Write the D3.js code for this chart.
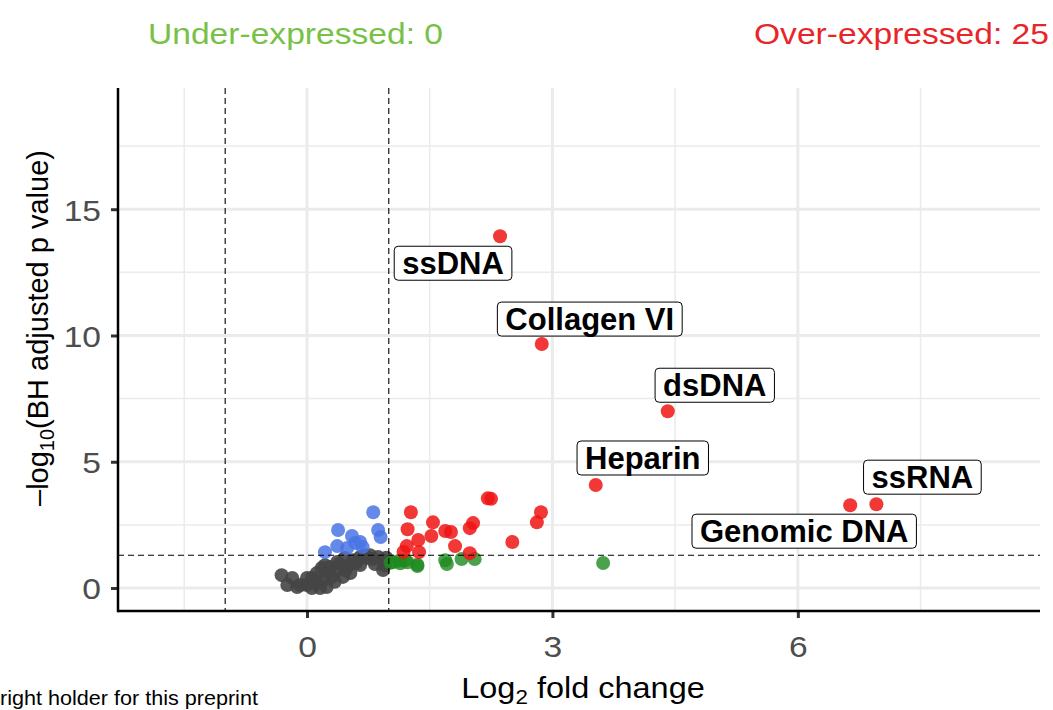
<!DOCTYPE html>
<html>
<head>
<meta charset="utf-8">
<script src="https://cdn.jsdelivr.net/npm/d3@7"></script>
<style>
body { margin: 0; background: #fff; }
svg { font-family: "Liberation Sans", Arial, sans-serif; display: block; }
.tick text { fill: #4d4d4d; font-size: 30px; }
</style>
</head>
<body>
<div id="drawing"></div>
<script>
"use strict"

/**** DATA ****/
// [log2 fold change, -log10 adjusted p]
let overExpressed = [
[2.36,13.93],[2.87,9.66],[4.41,7.0],[3.53,4.08],[6.64,3.28],[6.96,3.32],
[1.27,3.0],[1.23,2.33],[1.22,1.66],[1.18,1.43],[1.36,1.9],[1.37,1.42],
[1.54,2.6],[1.52,2.06],[1.69,2.26],[1.76,2.22],[1.81,1.66],[1.99,2.37],
[2.03,2.57],[1.99,1.38],[2.21,3.55],[2.25,3.53],[2.51,1.82],[2.81,2.6],[2.86,3.0]
]
let sigLowFC = [
[0.81,3.0],[0.38,2.3],[0.87,2.3],[0.90,2.02],[0.55,2.06],[0.59,1.78],
[0.37,1.66],[0.68,1.62],[0.22,1.42],[0.49,1.58],[0.65,1.82]
]
let highFCNotSig = [
[1.05,1.03],[1.13,1.08],[1.2,1.1],[1.35,0.87],[1.69,1.1],[1.71,0.95],
[1.89,1.15],[2.05,1.15],[1.02,1.0],[1.14,0.98],[1.23,1.02],[1.35,0.92],[3.62,0.99]
]
let notSig = [
[-0.31,0.51],[-0.18,0.4],[-0.24,0.12],[-0.12,0.04],[0.0,0.12],[0.13,0.2],
[0.24,0.04],[0.12,0.59],[0.18,0.79],[0.28,0.83],[0.37,1.03],[0.46,1.19],
[0.53,0.59],[0.44,0.44],[0.65,1.23],[0.77,1.3],[0.87,1.23],[0.93,0.71],
[0.93,1.1],[0.31,0.44],[0.2,0.32],[0.06,0.4],[0.0,0.4],[0.56,1.1],
[0.73,1.19],[0.37,0.71],[0.49,0.83],[0.65,0.91],[-0.08,0.12],[0.06,0.0],
[0.16,0.0],[0.1,0.25],[0.25,0.6],[0.4,0.95],[0.6,1.0],[0.8,1.15],
[0.95,0.9],[0.97,1.2],[0.83,0.95],[0.34,0.25],[0.47,0.7],[0.22,0.9],[0.7,1.3]
]
let labelNames = ["ssDNA","Collagen VI","dsDNA","Heparin","Genomic DNA","ssRNA"]
let labelPoints = [[2.36,13.93],[2.87,9.66],[4.41,7.0],[3.53,4.08],[6.64,3.28],[6.96,3.32]]
let xTicks = [0,3,6]
let yTicks = [0,5,10,15]
let xMinor = [-1.5,1.5,4.5,7.5]
let yMinor = [2.5,7.5,12.5,17.5]
let fcCut = [-1,1]
let pCut = 1.3

/**** LAYOUT ****/
let svgWidth = 1053
let svgHeight = 710
let plotLeft = 118, plotRight = 1040, plotTop = 88, plotBottom = 611
let stretch = 1.12   // the source image is a little wider than tall
// label box offsets in px (from the point to the box centre)
let labelNudge = [[-47,27],[48,-25],[47,-26],[47,-27],[-46,26],[46,-27]]

let svg = d3.select("#drawing").append("svg")
.attr("width",svgWidth).attr("height",svgHeight)

let xScale = d3.scaleLinear().domain([-2.31,8.96]).range([plotLeft,plotRight])
let yScale = d3.scaleLinear().domain([-0.91,19.8]).range([plotBottom,plotTop])

/**** GRID ****/
let grid = svg.append("g")
grid.selectAll("line.xminor").data(xMinor).join("line")
.attr("class","xminor")
.attr("x1",d=>xScale(d)).attr("x2",d=>xScale(d)).attr("y1",plotTop).attr("y2",plotBottom)
.attr("stroke","#ebebeb").attr("stroke-width",1.5)
grid.selectAll("line.yminor").data(yMinor).join("line")
.attr("class","yminor")
.attr("y1",d=>yScale(d)).attr("y2",d=>yScale(d)).attr("x1",plotLeft).attr("x2",plotRight)
.attr("stroke","#ebebeb").attr("stroke-width",1.5)
grid.selectAll("line.xmajor").data(xTicks).join("line")
.attr("class","xmajor")
.attr("x1",d=>xScale(d)).attr("x2",d=>xScale(d)).attr("y1",plotTop).attr("y2",plotBottom)
.attr("stroke","#ebebeb").attr("stroke-width",3)
grid.selectAll("line.ymajor").data(yTicks).join("line")
.attr("class","ymajor")
.attr("y1",d=>yScale(d)).attr("y2",d=>yScale(d)).attr("x1",plotLeft).attr("x2",plotRight)
.attr("stroke","#ebebeb").attr("stroke-width",3)

/**** POINTS ****/
function drawPoints(data, color, opacity){
  svg.append("g").selectAll("circle").data(data).join("circle")
  .attr("cx",d=>xScale(d[0])).attr("cy",d=>yScale(d[1])).attr("r",7)
  .attr("fill",color).attr("fill-opacity",opacity)
}
drawPoints(notSig,"#454545",0.9)
drawPoints(sigLowFC,"#4a74e4",0.85)
drawPoints(highFCNotSig,"#1f8a1f",0.8)
drawPoints(overExpressed,"#f01414",0.85)

/**** THRESHOLDS ****/
svg.selectAll("line.vcut").data(fcCut).join("line")
.attr("class","vcut")
.attr("x1",d=>xScale(d)).attr("x2",d=>xScale(d)).attr("y1",plotTop).attr("y2",plotBottom)
.attr("stroke","black").attr("stroke-width",1.1).attr("stroke-dasharray","6,4")
svg.append("line")
.attr("x1",plotLeft).attr("x2",plotRight).attr("y1",yScale(pCut)).attr("y2",yScale(pCut))
.attr("stroke","black").attr("stroke-width",1.1).attr("stroke-dasharray","6,4")

/**** AXES ****/
let xAxis = svg.append("g").attr("transform",`translate(0,${plotBottom})`)
.call(d3.axisBottom(xScale).tickValues(xTicks).tickSize(7).tickPadding(9))
let yAxis = svg.append("g").attr("transform",`translate(${plotLeft},0)`)
.call(d3.axisLeft(yScale).tickValues(yTicks).tickSize(7).tickPadding(8))
svg.selectAll(".domain").remove()
svg.selectAll(".tick line").attr("stroke","#333").attr("stroke-width",3)
xAxis.selectAll(".tick text").attr("dy","1em").attr("transform",`scale(${stretch},1)`).attr("x",0)
yAxis.selectAll(".tick text").attr("dy","0.36em").attr("x",-17/stretch).attr("transform",`scale(${stretch},1)`)

svg.append("line").attr("x1",plotLeft).attr("x2",plotRight).attr("y1",plotBottom).attr("y2",plotBottom)
.attr("stroke","black").attr("stroke-width",2.5)
svg.append("line").attr("x1",plotLeft).attr("x2",plotLeft).attr("y1",plotTop).attr("y2",plotBottom+1.25)
.attr("stroke","black").attr("stroke-width",2.5)

/**** AXIS TITLES ****/
let xt = svg.append("text").attr("transform",`translate(583,698) scale(${stretch},1)`)
.attr("text-anchor","middle").attr("font-size",29).attr("fill","black")
xt.append("tspan").text("Log")
xt.append("tspan").attr("font-size",20).attr("dy",6).text("2")
xt.append("tspan").attr("dy",-6).text(" fold change")

let yt = svg.append("text").attr("transform","translate(48,328) rotate(-90)")
.attr("text-anchor","middle").attr("font-size",29).attr("fill","black")
yt.append("tspan").text("\u2013log")
yt.append("tspan").attr("font-size",20).attr("dy",6).text("10")
yt.append("tspan").attr("dy",-6).text("(BH adjusted p value)")

/**** HEADER ****/
svg.append("text").attr("transform",`translate(148,44) scale(${stretch},1)`).attr("font-size",30)
.attr("fill","#78c147").text("Under-expressed: 0")
svg.append("text").attr("transform",`translate(1049,44) scale(${stretch},1)`).attr("font-size",30)
.attr("text-anchor","end").attr("fill","#e8262a").text("Over-expressed: 25")

svg.append("text").attr("transform",`translate(0,705) scale(1.08,1)`).attr("font-size",20)
.attr("fill","black").text("right holder for this preprint")

/**** LABELS ****/
labelNames.forEach(function(name,i){
  let cx = xScale(labelPoints[i][0]) + labelNudge[i][0]
  let cy = yScale(labelPoints[i][1]) + labelNudge[i][1]
  let g = svg.append("g")
  let t = g.append("text").attr("x",cx).attr("y",cy).attr("dy","0.36em")
  .attr("text-anchor","middle").attr("font-size",31).attr("font-weight","bold")
  .attr("fill","black").text(name)
  let w = t.node().getComputedTextLength()
  g.insert("rect","text").attr("x",cx-w/2-8).attr("y",cy-17).attr("width",w+16).attr("height",34)
  .attr("rx",4).attr("fill","white").attr("stroke","black").attr("stroke-width",1)
})
</script>
</body>
</html>
